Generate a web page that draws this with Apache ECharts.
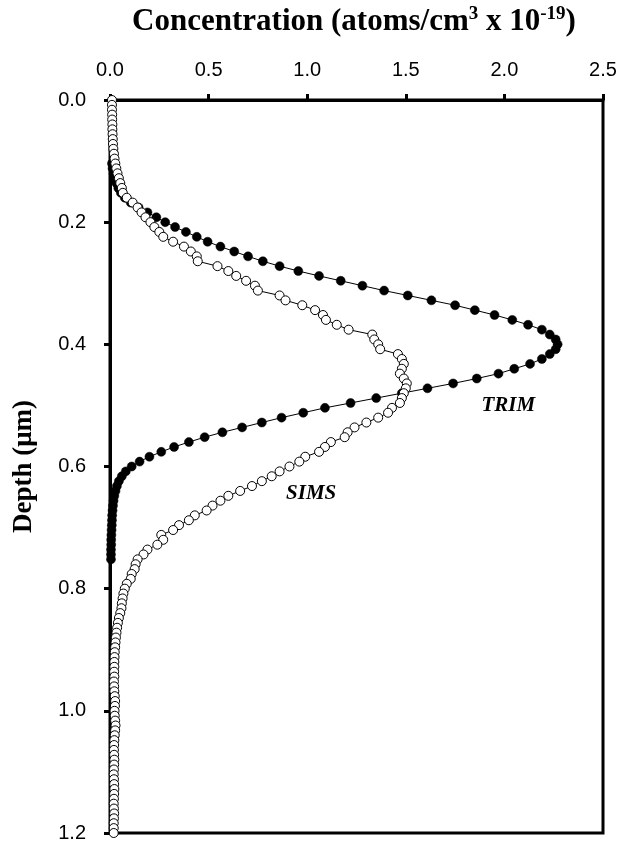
<!DOCTYPE html>
<html>
<head>
<meta charset="utf-8">
<script src="https://cdn.jsdelivr.net/npm/echarts@6/dist/echarts.min.js"></script>
<style>
  html, body { margin: 0; padding: 0; background: #fff; }
  #chart { width: 634px; height: 847px; }
</style>
</head>
<body>
<div id="chart"></div>
<script>
// Axis ticks
const concTicks = [0.0, 0.5, 1.0, 1.5, 2.0, 2.5];
const depthTicks = [0.0, 0.2, 0.4, 0.6, 0.8, 1.0, 1.2];

// TRIM simulated profile: depth (µm) and concentration (atoms/cm3 x 1e-19)
const trimDepth = [
  0.104, 0.112, 0.120, 0.128, 0.136, 0.144, 0.152, 0.160, 0.168, 0.176,
  0.184, 0.192, 0.200, 0.208, 0.216, 0.224, 0.232, 0.240, 0.248, 0.256,
  0.264, 0.272, 0.280, 0.288, 0.296, 0.304, 0.312, 0.320, 0.328, 0.336,
  0.344, 0.352, 0.360, 0.368, 0.376, 0.384, 0.392, 0.400, 0.408, 0.416,
  0.424, 0.432, 0.440, 0.448, 0.456, 0.464, 0.472, 0.480, 0.488, 0.496,
  0.504, 0.512, 0.520, 0.528, 0.536, 0.544, 0.552, 0.560, 0.568, 0.576,
  0.584, 0.592, 0.600, 0.608, 0.616, 0.624, 0.632, 0.640, 0.648, 0.656,
  0.664, 0.672, 0.680, 0.688, 0.696, 0.704, 0.712, 0.720, 0.728, 0.736,
  0.744, 0.752
];
const trimConc = [
  0.010, 0.013, 0.018, 0.024, 0.032, 0.042, 0.055, 0.075, 0.105, 0.145,
  0.190, 0.235, 0.280, 0.330, 0.385, 0.440, 0.495, 0.560, 0.630, 0.700,
  0.775, 0.860, 0.955, 1.060, 1.170, 1.280, 1.390, 1.510, 1.630, 1.750,
  1.850, 1.950, 2.040, 2.120, 2.190, 2.230, 2.260, 2.270, 2.260, 2.230,
  2.190, 2.130, 2.050, 1.970, 1.860, 1.740, 1.610, 1.480, 1.350, 1.220,
  1.090, 0.980, 0.870, 0.770, 0.670, 0.570, 0.480, 0.400, 0.325, 0.260,
  0.200, 0.150, 0.110, 0.080, 0.060, 0.045, 0.035, 0.028, 0.022, 0.018,
  0.015, 0.013, 0.011, 0.010, 0.009, 0.008, 0.007, 0.006, 0.006, 0.005,
  0.005, 0.005
];

// SIMS measured profile
const simsDepth = [
  0.000, 0.008, 0.016, 0.024, 0.032, 0.040, 0.048, 0.056, 0.064, 0.072,
  0.080, 0.088, 0.096, 0.104, 0.112, 0.120, 0.128, 0.136, 0.144, 0.152,
  0.160, 0.168, 0.176, 0.184, 0.192, 0.200, 0.208, 0.216, 0.224, 0.232,
  0.240, 0.248, 0.256, 0.264, 0.272, 0.280, 0.288, 0.296, 0.304, 0.312,
  0.320, 0.328, 0.336, 0.344, 0.352, 0.360, 0.368, 0.376, 0.384, 0.392,
  0.400, 0.408, 0.416, 0.424, 0.432, 0.440, 0.448, 0.456, 0.464, 0.472,
  0.480, 0.488, 0.496, 0.504, 0.512, 0.520, 0.528, 0.536, 0.544, 0.552,
  0.560, 0.568, 0.576, 0.584, 0.592, 0.600, 0.608, 0.616, 0.624, 0.632,
  0.640, 0.648, 0.656, 0.664, 0.672, 0.680, 0.688, 0.696, 0.704, 0.712,
  0.720, 0.728, 0.736, 0.744, 0.752, 0.760, 0.768, 0.776, 0.784, 0.792,
  0.800, 0.808, 0.816, 0.824, 0.832, 0.840, 0.848, 0.856, 0.864, 0.872,
  0.880, 0.888, 0.896, 0.904, 0.912, 0.920, 0.928, 0.936, 0.944, 0.952,
  0.960, 0.968, 0.976, 0.984, 0.992, 1.000, 1.008, 1.016, 1.024, 1.032,
  1.040, 1.048, 1.056, 1.064, 1.072, 1.080, 1.088, 1.096, 1.104, 1.112,
  1.120, 1.128, 1.136, 1.144, 1.152, 1.160, 1.168, 1.176, 1.184, 1.192,
  1.200
];
const simsConc = [
  0.010, 0.010, 0.010, 0.011, 0.011, 0.012, 0.012, 0.013, 0.014, 0.015,
  0.017, 0.020, 0.023, 0.027, 0.032, 0.038, 0.045, 0.052, 0.060, 0.065,
  0.085, 0.115, 0.140, 0.160, 0.180, 0.205, 0.225, 0.250, 0.270, 0.320,
  0.375, 0.410, 0.440, 0.445, 0.545, 0.600, 0.640, 0.690, 0.735, 0.750,
  0.860, 0.890, 0.975, 1.040, 1.080, 1.095, 1.150, 1.210, 1.330, 1.340,
  1.360, 1.370, 1.460, 1.480, 1.490, 1.480, 1.470, 1.490, 1.505, 1.500,
  1.490, 1.480, 1.470, 1.430, 1.410, 1.360, 1.300, 1.240, 1.205, 1.190,
  1.120, 1.090, 1.060, 0.990, 0.960, 0.910, 0.860, 0.820, 0.770, 0.720,
  0.660, 0.600, 0.560, 0.520, 0.490, 0.430, 0.400, 0.350, 0.320, 0.260,
  0.270, 0.240, 0.190, 0.170, 0.140, 0.130, 0.125, 0.110, 0.105, 0.085,
  0.075, 0.068, 0.064, 0.060, 0.058, 0.052, 0.045, 0.040, 0.036, 0.033,
  0.030, 0.028, 0.026, 0.024, 0.023, 0.022, 0.022, 0.021, 0.022, 0.020,
  0.021, 0.022, 0.024, 0.026, 0.025, 0.023, 0.024, 0.026, 0.028, 0.026,
  0.024, 0.022, 0.021, 0.020, 0.021, 0.022, 0.021, 0.020, 0.019, 0.020,
  0.021, 0.022, 0.021, 0.020, 0.019, 0.020, 0.021, 0.020, 0.019, 0.019,
  0.019
];

// Curve labels, placed in data coordinates [concentration, depth]
const trimLabelAt = [2.02, 0.50];
const simsLabelAt = [1.02, 0.645];

const SERIF = '"Liberation Serif", "Times New Roman", serif';
const SANS = '"Liberation Sans", Arial, sans-serif';

function pairs(xs, ys) {
  return xs.map((x, i) => [x, ys[i]]);
}

const chart = echarts.init(document.getElementById('chart'), null, { renderer: 'canvas' });

const option = {
  animation: false,
  backgroundColor: '#fff',
  grid: {
    left: 110, right: 31, top: 100, bottom: 14,
    show: true, borderColor: '#000', borderWidth: 3, backgroundColor: 'transparent'
  },
  xAxis: {
    type: 'value',
    position: 'top',
    min: concTicks[0], max: concTicks[concTicks.length - 1], interval: 0.5,
    axisLine: { show: true, onZero: false, lineStyle: { color: '#000', width: 3 } },
    axisTick: { show: true, inside: false, length: 6, lineStyle: { color: '#000', width: 3 } },
    axisLabel: {
      margin: 20, color: '#000', fontFamily: SANS, fontSize: 20,
      formatter: v => v.toFixed(1)
    },
    splitLine: { show: false }
  },
  yAxis: {
    type: 'value',
    inverse: true,
    min: depthTicks[0], max: depthTicks[depthTicks.length - 1], interval: 0.2,
    axisLine: { show: true, onZero: false, lineStyle: { color: '#000', width: 3 } },
    axisTick: { show: true, inside: false, length: 6, lineStyle: { color: '#000', width: 3 } },
    axisLabel: {
      margin: 24, color: '#000', fontFamily: SANS, fontSize: 20,
      formatter: v => v.toFixed(1)
    },
    splitLine: { show: false },
    name: 'Depth (μm)',
    nameLocation: 'middle',
    nameRotate: 90,
    nameGap: 72,
    nameTextStyle: { color: '#000', fontFamily: SERIF, fontWeight: 'bold', fontSize: 27 }
  },
  series: [
    {
      name: 'TRIM',
      type: 'line',
      data: pairs(trimConc, trimDepth),
      symbol: 'circle',
      symbolSize: 9,
      showAllSymbol: true,
      clip: false,
      lineStyle: { color: '#000', width: 1 },
      itemStyle: { color: '#000', borderColor: '#000', borderWidth: 0.5 },
      z: 3
    },
    {
      name: 'SIMS',
      type: 'line',
      data: pairs(simsConc, simsDepth),
      symbol: 'circle',
      symbolSize: 9,
      showAllSymbol: true,
      clip: false,
      lineStyle: { color: '#000', width: 1 },
      itemStyle: { color: '#fff', borderColor: '#000', borderWidth: 1 },
      z: 4
    }
  ]
};

chart.setOption(option);

// Title with superscripts, and the curve annotations
const trimPx = chart.convertToPixel({ gridIndex: 0 }, trimLabelAt);
const simsPx = chart.convertToPixel({ gridIndex: 0 }, simsLabelAt);

chart.setOption({
  graphic: [
    {
      type: 'text',
      x: 354, y: 22,
      style: {
        text: '{b|Concentration (atoms/cm}{s|3}{b| x 10}{s|-19}{b|)}',
        align: 'center',
        verticalAlign: 'middle',
        rich: {
          b: { fontFamily: SERIF, fontWeight: 'bold', fontSize: 31, lineHeight: 34, fill: '#000' },
          s: { fontFamily: SERIF, fontWeight: 'bold', fontSize: 19, lineHeight: 19, verticalAlign: 'top', fill: '#000' }
        }
      }
    },
    {
      type: 'text',
      x: trimPx[0], y: trimPx[1],
      style: {
        text: 'TRIM', align: 'center', verticalAlign: 'middle',
        fontFamily: SERIF, fontWeight: 'bold', fontStyle: 'italic', fontSize: 21, fill: '#000'
      }
    },
    {
      type: 'text',
      x: simsPx[0], y: simsPx[1],
      style: {
        text: 'SIMS', align: 'center', verticalAlign: 'middle',
        fontFamily: SERIF, fontWeight: 'bold', fontStyle: 'italic', fontSize: 21, fill: '#000'
      }
    }
  ]
});
</script>
</body>
</html>
